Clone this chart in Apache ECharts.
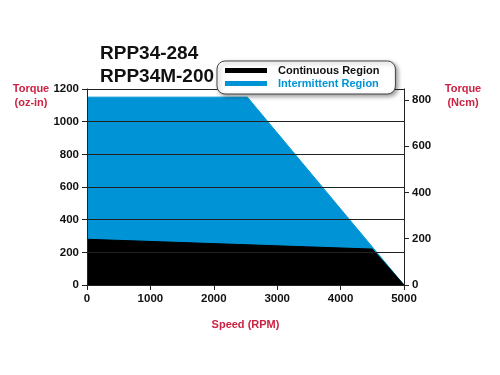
<!DOCTYPE html>
<html>
<head>
<meta charset="utf-8">
<script src="https://cdn.jsdelivr.net/npm/echarts@6/dist/echarts.min.js"></script>
<style>
  html, body { margin: 0; padding: 0; background: #fff; }
  #chart { width: 500px; height: 375px; }
</style>
</head>
<body>
<div id="chart"></div>
<script>
// 转矩-转速曲线数据 (oz-in vs RPM)
const intermittentSpeed = [0, 2530, 5000];
const intermittentTorque = [1150, 1150, 0];
const continuousSpeed = [0, 4500, 5000];
const continuousTorque = [280, 220, 0];
const OZIN_TO_NCM = 0.7062;

const blue = '#0094d6';
const red = '#cc2244';
const font = '"Liberation Sans", Arial, sans-serif';

const pairs = (xs, ys) => xs.map((x, i) => [x, ys[i]]);
const plain = v => String(v);

const chart = echarts.init(document.getElementById('chart'));
chart.setOption({
  backgroundColor: '#fff',
  animation: false,
  textStyle: { fontFamily: font },
  grid: { left: 87, right: 96, top: 89, bottom: 90 },
  graphic: [
    { type: 'text', left: 100, top: 44, style: { text: 'RPP34-284', font: 'bold 19px ' + font, fill: '#111' } },
    { type: 'text', left: 100, top: 67, style: { text: 'RPP34M-200', font: 'bold 19px ' + font, fill: '#111' } },
    { type: 'text', x: 31, y: 82, style: { text: 'Torque\n(oz-in)', font: 'bold 11px ' + font, fill: red, align: 'center', lineHeight: 14 } },
    { type: 'text', x: 463, y: 82, style: { text: 'Torque\n(Ncm)', font: 'bold 11px ' + font, fill: red, align: 'center', lineHeight: 14 } },
  ],
  legend: {
    z: 10,
    left: 217,
    top: 61,
    orient: 'vertical',
    itemGap: 2,
    itemWidth: 42,
    itemHeight: 5,
    padding: [4, 16, 5, 8],
    backgroundColor: '#fff',
    borderColor: '#444',
    borderWidth: 1,
    borderRadius: 8,
    shadowBlur: 4,
    shadowOffsetX: 2,
    shadowOffsetY: 2,
    shadowColor: 'rgba(0,0,0,0.4)',
    icon: 'rect',
    textStyle: { fontSize: 11, fontWeight: 'bold', fontFamily: font, padding: [0, 0, 0, 6] },
    data: [
      { name: 'Continuous Region', textStyle: { color: '#111' } },
      { name: 'Intermittent Region', textStyle: { color: blue } },
    ],
  },
  xAxis: {
    type: 'value',
    min: 0,
    max: 5000,
    interval: 1000,
    z: 3,
    name: 'Speed (RPM)',
    nameLocation: 'middle',
    nameGap: 34,
    nameTextStyle: { color: red, fontWeight: 'bold', fontSize: 11 },
    axisLine: { lineStyle: { color: '#222', width: 1 } },
    axisTick: { show: true, length: 5, lineStyle: { color: '#222' } },
    axisLabel: { color: '#111', fontWeight: 'bold', fontSize: 11.5, margin: 8, formatter: plain },
    splitLine: { show: false },
  },
  yAxis: [
    {
      type: 'value',
      min: 0,
      max: 1200,
      interval: 200,
      z: 3,
      axisLine: { show: true, lineStyle: { color: '#222', width: 1 } },
      axisTick: { show: true, length: 5, lineStyle: { color: '#222' } },
      axisLabel: { color: '#111', fontWeight: 'bold', fontSize: 11.5, margin: 8, formatter: plain },
      splitLine: { show: true, lineStyle: { color: '#222', width: 1 } },
    },
    {
      type: 'value',
      position: 'right',
      min: 0,
      max: 1200 * OZIN_TO_NCM,
      interval: 200,
      z: 3,
      axisLine: { show: true, lineStyle: { color: '#222', width: 1 } },
      axisTick: { show: true, length: 5, lineStyle: { color: '#222' } },
      axisLabel: { color: '#111', fontWeight: 'bold', fontSize: 11.5, margin: 8,
        showMaxLabel: false, formatter: plain },
      splitLine: { show: false },
    },
  ],
  series: [
    {
      name: 'Intermittent Region',
      type: 'line',
      data: pairs(intermittentSpeed, intermittentTorque),
      symbol: 'none',
      z: 1,
      itemStyle: { color: blue },
      lineStyle: { color: blue, width: 1 },
      areaStyle: { color: blue, opacity: 1 },
    },
    {
      name: 'Continuous Region',
      type: 'line',
      data: pairs(continuousSpeed, continuousTorque),
      symbol: 'none',
      z: 2,
      itemStyle: { color: '#000' },
      lineStyle: { color: '#000', width: 1 },
      areaStyle: { color: '#000', opacity: 1 },
    },
  ],
});
</script>
</body>
</html>
